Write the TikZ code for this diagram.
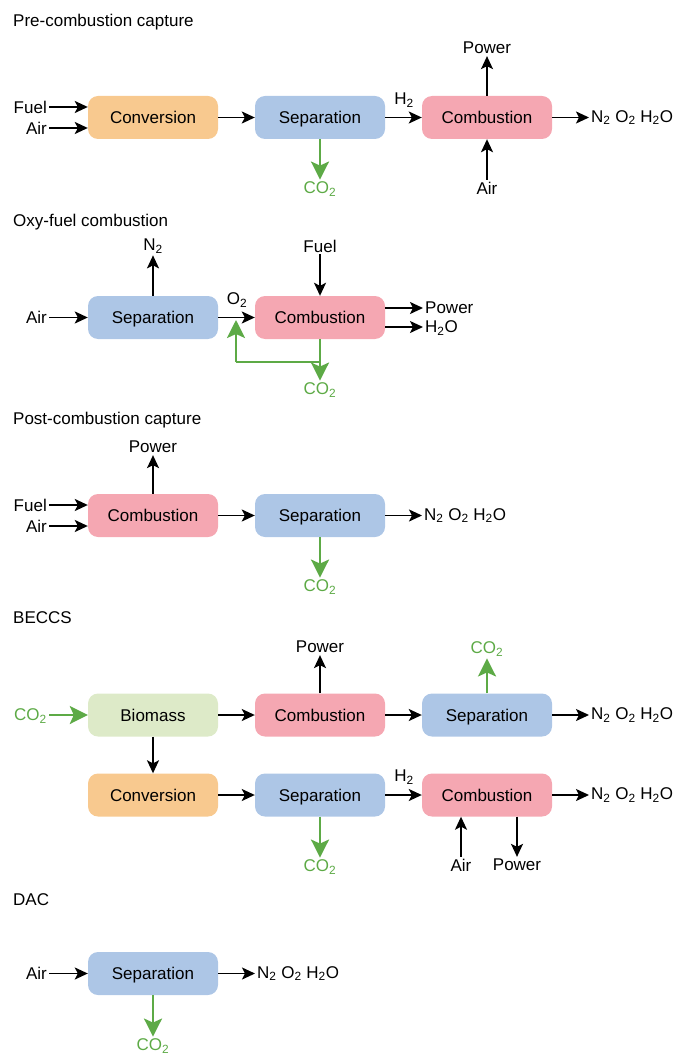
\documentclass[tikz,border=0pt]{standalone}
\usepackage{fontspec}
\setmainfont{Liberation Sans}
\usetikzlibrary{arrows.meta}
\definecolor{corange}{HTML}{F8C98F}
\definecolor{cblue}{HTML}{ADC6E6}
\definecolor{cpink}{HTML}{F5A7B2}
\definecolor{clgreen}{HTML}{DDEAC8}
\definecolor{cgreen}{HTML}{5DAA46}
\newcommand{\sub}[1]{\textsubscript{#1}}
\tikzset{
  box/.style={rounded corners=10pt, minimum width=130pt, minimum height=43pt, inner sep=0pt, text height=12.5pt, text depth=0.5pt},
  conv/.style={box, fill=corange},
  sepb/.style={box, fill=cblue},
  comb/.style={box, fill=cpink},
  bio/.style={box, fill=clgreen},
  lbl/.style={inner sep=2pt},
  gl/.style={inner sep=2pt, text=cgreen},
  title/.style={anchor=west, inner sep=0pt},
  arr/.style={line width=1.7pt, -{Stealth[length=13pt,width=12pt,inset=3pt]}},
  garr/.style={draw=cgreen, line width=2.6pt, -{Stealth[length=18pt,width=18pt,inset=4pt]}},
  gline/.style={draw=cgreen, line width=2.6pt},
}
\begin{document}
\begin{tikzpicture}[x=1pt,y=-1pt,font=\fontsize{17}{20}\selectfont]
\useasboundingbox (0,0) rectangle (676,1056);

% ---------- Pre-combustion ----------
\node[title] (t1) at (13,22) {Pre-combustion capture};
\node[conv] (c1) at (153,117.5) {Conversion};
\node[sepb] (s1) at (320,117.5) {Separation};
\node[comb] (b1) at (487,117.5) {Combustion};
\node[lbl, anchor=east] (f1) at (49,107) {Fuel};
\node[lbl, anchor=east] (a1) at (49,128) {Air};
\node[lbl] (h1) at (404,100) {H\sub{2}};
\node[lbl] (p1) at (487,48) {Power};
\node[lbl] (ab1) at (487,188) {Air};
\node[gl] (g1) at (320,189) {CO\sub{2}};
\node[lbl, anchor=west] (o1) at (589,117.5) {N\sub{2} O\sub{2} H\sub{2}O};
\draw[arr] (f1.east) -- (f1.east -| c1.west);
\draw[arr] (a1.east) -- (a1.east -| c1.west);
\draw[arr] (c1) -- (s1);
\draw[arr] (s1) -- (b1);
\draw[arr] (b1.north) -- (p1.south);
\draw[arr] (ab1.north) -- (b1.south);
\draw[arr] (b1.east) -- (o1.west);
\draw[garr] (s1.south) -- (g1.north);

% ---------- Oxy-fuel ----------
\node[title] (t2) at (13,222) {Oxy-fuel combustion};
\node[sepb] (s2) at (153,317.5) {Separation};
\node[comb] (b2) at (320,317.5) {Combustion};
\node[lbl, anchor=east] (a2) at (49,317.5) {Air};
\node[lbl] (n2) at (153,246) {N\sub{2}};
\node[lbl] (o2) at (237,300) {O\sub{2}};
\node[lbl] (f2) at (320,246) {Fuel};
\node[lbl, anchor=west] (p2) at (423,308) {Power};
\node[lbl, anchor=west] (w2) at (423,328) {H\sub{2}O};
\node[gl] (g2) at (320,390) {CO\sub{2}};
\coordinate (j2) at (320,362);
\coordinate (k2) at (236,362);
\coordinate (r2) at (236,320);
\draw[arr] (a2.east) -- (s2.west);
\draw[arr] (s2.north) -- (n2.south);
\draw[arr] (s2) -- (b2);
\draw[arr] (f2.south) -- (b2.north);
\draw[arr] (p2.west -| b2.east) -- (p2.west);
\draw[arr] (b2.east |- 0,327) -- (w2.west |- 0,327);
\draw[gline] (b2.south) -- (j2) -- (k2);
\draw[garr] (k2) -- (r2);
\draw[garr] (j2) -- (g2.north);

% ---------- Post-combustion ----------
\node[title] (t3) at (13,420) {Post-combustion capture};
\node[comb] (b3) at (153,515.5) {Combustion};
\node[sepb] (s3) at (320,515.5) {Separation};
\node[lbl, anchor=east] (f3) at (49,505) {Fuel};
\node[lbl, anchor=east] (a3) at (49,526) {Air};
\node[lbl] (p3) at (153,447) {Power};
\node[lbl, anchor=west] (o3) at (422,515.5) {N\sub{2} O\sub{2} H\sub{2}O};
\node[gl] (g3) at (320,587) {CO\sub{2}};
\draw[arr] (f3.east) -- (f3.east -| b3.west);
\draw[arr] (a3.east) -- (a3.east -| b3.west);
\draw[arr] (b3.north) -- (p3.south);
\draw[arr] (b3) -- (s3);
\draw[arr] (s3.east) -- (o3.west);
\draw[garr] (s3.south) -- (g3.north);

% ---------- BECCS ----------
\node[title] (t4) at (13,618) {BECCS};
\node[bio] (bi4) at (153,715) {Biomass};
\node[comb] (b4) at (320,715) {Combustion};
\node[sepb] (s4) at (487,715) {Separation};
\node[gl, anchor=east] (gi4) at (49,716) {CO\sub{2}};
\node[lbl] (p4) at (320,647) {Power};
\node[gl] (gu4) at (487,649) {CO\sub{2}};
\node[lbl, anchor=west] (o4) at (589,715) {N\sub{2} O\sub{2} H\sub{2}O};
\node[conv] (c5) at (153,795) {Conversion};
\node[sepb] (s5) at (320,795) {Separation};
\node[comb] (b5) at (487,795) {Combustion};
\node[lbl] (h5) at (404,777) {H\sub{2}};
\node[lbl, anchor=west] (o5) at (589,795) {N\sub{2} O\sub{2} H\sub{2}O};
\node[gl] (g5) at (320,867) {CO\sub{2}};
\node[lbl] (a5) at (461,865) {Air};
\node[lbl] (p5) at (517,865) {Power};
\draw[garr] (gi4.east |- bi4.west) -- (bi4.west);
\draw[arr] (bi4) -- (b4);
\draw[arr] (b4.north) -- (p4.south);
\draw[arr] (b4) -- (s4);
\draw[garr] (s4.north) -- (s4.north |- gu4.south);
\draw[arr] (s4.east) -- (o4.west);
\draw[arr] (bi4) -- (c5);
\draw[arr] (c5) -- (s5);
\draw[arr] (s5) -- (b5);
\draw[arr] (b5.east) -- (o5.west);
\draw[garr] (s5.south) -- (g5.north);
\draw[arr] (a5.north) -- (a5.north |- b5.south);
\draw[arr] (p5.north |- b5.south) -- (p5.north);

% ---------- DAC ----------
\node[title] (t6) at (13,900) {DAC};
\node[sepb] (s6) at (153,973.5) {Separation};
\node[lbl, anchor=east] (a6) at (49,973.5) {Air};
\node[lbl, anchor=west] (o6) at (255,973.5) {N\sub{2} O\sub{2} H\sub{2}O};
\node[gl] (g6) at (153,1046) {CO\sub{2}};
\draw[arr] (a6.east) -- (s6.west);
\draw[arr] (s6.east) -- (o6.west);
\draw[garr] (s6.south) -- (g6.north);
\end{tikzpicture}
\end{document}
